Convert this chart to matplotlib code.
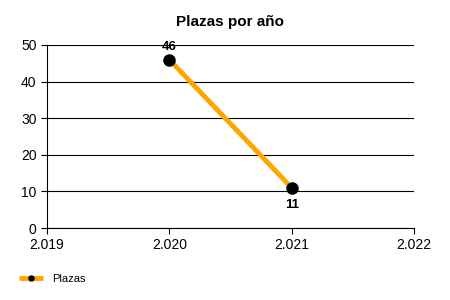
import matplotlib.pyplot as plt
from matplotlib.ticker import FuncFormatter

plt.rcParams['font.family'] = ['Liberation Sans', 'DejaVu Sans']

years = [2020, 2021]
plazas = [46, 11]
x_ticks = [2019, 2020, 2021, 2022]
y_ticks = [0, 10, 20, 30, 40, 50]

fig = plt.figure(figsize=(4.5, 3), dpi=100)
ax = fig.add_axes([0.1044, 0.24, 0.8156, 0.61])

ax.plot(years, plazas, color='#FFA500', linewidth=3.5, marker='o',
        markersize=8, markerfacecolor='black', markeredgecolor='black',
        label='Plazas', zorder=3, solid_capstyle='butt')

for x, y in zip(years, plazas):
    if y > 20:
        ax.annotate(str(y), (x, y), xytext=(0, 5), textcoords='offset points',
                    ha='center', va='bottom', fontsize=9.5, fontweight='bold')
    else:
        ax.annotate(str(y), (x, y), xytext=(0, -8), textcoords='offset points',
                    ha='center', va='top', fontsize=9.5, fontweight='bold')

ax.set_xlim(2019, 2022)
ax.set_ylim(0, 50)
ax.set_xticks(x_ticks)
ax.set_yticks(y_ticks)
ax.xaxis.set_major_formatter(FuncFormatter(lambda v, p: f"{int(v) // 1000}.{int(v) % 1000:03d}"))
ax.yaxis.grid(True, color='black', linewidth=0.8)
ax.set_axisbelow(True)
for s in ['top', 'right']:
    ax.spines[s].set_visible(False)
ax.tick_params(labelsize=10, length=4, direction='out', color='black')

ax.set_title('Plazas por año', fontsize=11, fontweight='bold', pad=14)

fig.legend(loc='lower left', bbox_to_anchor=(0.02, 0.02), frameon=False,
           fontsize=8, handlelength=2.2, markerscale=0.45)

fig.savefig('out.png', dpi=100)
